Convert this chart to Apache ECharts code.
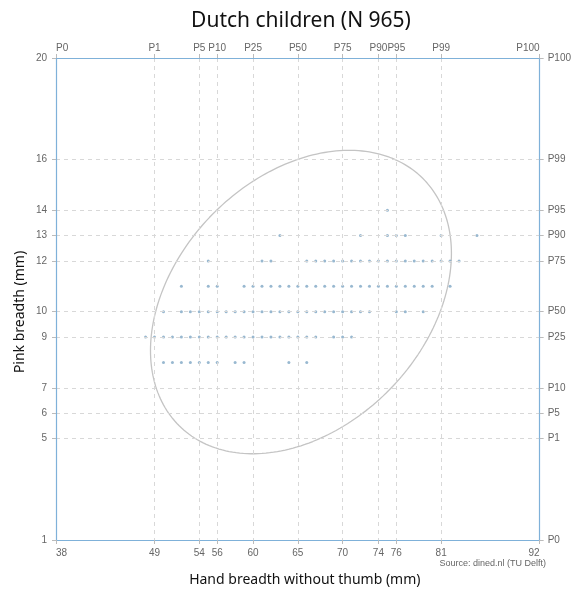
<!DOCTYPE html>
<html>
<head>
<meta charset="utf-8">
<script src="https://cdn.jsdelivr.net/npm/echarts@6/dist/echarts.min.js"></script>
<style>
  html, body { margin: 0; padding: 0; background: #fff; }
  #chart { width: 574px; height: 592px; }
</style>
</head>
<body>
<div id="chart"></div>
<script>
// Hand breadth without thumb (mm): tick values and their percentile names
const xTicks = [38, 49, 54, 56, 60, 65, 70, 74, 76, 81, 92];
const xPercentiles = ['P0', 'P1', 'P5', 'P10', 'P25', 'P50', 'P75', 'P90', 'P95', 'P99', 'P100'];

// Pink breadth (mm): tick values and their percentile names
const yTicks = [1, 5, 6, 7, 9, 10, 12, 13, 14, 16, 20];
const yPercentiles = ['P0', 'P1', 'P5', 'P10', 'P25', 'P50', 'P75', 'P90', 'P95', 'P99', 'P100'];

// Observed hand breadths for each measured pink breadth
const handAtPink8  = [50, 51, 52, 53, 54, 55, 56, 58, 59, 64, 66];
const handAtPink9  = [48, 49, 50, 51, 52, 53, 54, 55, 56, 57, 58, 59, 60, 61, 62, 63, 64, 65, 66, 67, 69, 70, 71];
const handAtPink10 = [50, 52, 53, 54, 55, 56, 57, 58, 59, 60, 61, 62, 63, 64, 65, 66, 67, 68, 69, 70, 71, 72, 73, 76, 77, 79];
const handAtPink11 = [52, 55, 56, 59, 60, 61, 62, 63, 64, 65, 66, 67, 68, 69, 70, 71, 72, 73, 74, 75, 76, 77, 78, 79, 80, 82];
const handAtPink12 = [55, 61, 62, 66, 67, 68, 69, 70, 71, 72, 73, 74, 75, 76, 77, 78, 79, 80, 81, 82, 83];
const handAtPink13 = [63, 72, 75, 76, 77, 81, 85];
const handAtPink14 = [75];

// Spread ellipse: centre, half-widths and the phase that sets its tilt
const ellipseCenter = [65.35, 10.38];
const ellipseHalfX = 16.8;
const ellipseHalfY = 5.98;
const ellipseCosPhase = 0.32;

const rows = [
  [8, handAtPink8], [9, handAtPink9], [10, handAtPink10], [11, handAtPink11],
  [12, handAtPink12], [13, handAtPink13], [14, handAtPink14]
];
const points = [];
rows.forEach(([pink, hands]) => hands.forEach(h => points.push([h, pink])));

const phase = Math.acos(ellipseCosPhase);
const ellipse = [];
for (let i = 0; i <= 240; i++) {
  const t = (i / 240) * Math.PI * 2;
  ellipse.push([
    ellipseCenter[0] + ellipseHalfX * Math.cos(t),
    ellipseCenter[1] + ellipseHalfY * Math.cos(t - phase)
  ]);
}

const FONT = '"Liberation Sans", Arial, sans-serif';
const labelColor = '#666';
const borderColor = '#7fb1d9';
const gridColor = '#d8d8d8';
const tickColor = '#bbbbbb';

function axisBase(min, max, ticks) {
  return {
    type: 'value',
    min: min,
    max: max,
    axisLine: { show: true, onZero: false, lineStyle: { color: borderColor, width: 1.2 } },
    axisTick: { show: true, customValues: ticks, length: 4, inside: false, lineStyle: { color: tickColor } },
    splitLine: { show: false },
    axisLabel: {
      customValues: ticks, color: labelColor, fontSize: 10, fontFamily: FONT
    },
    z: 5
  };
}

const gridLine = {
  show: true,
  showMinLine: false,
  showMaxLine: false,
  lineStyle: { color: gridColor, type: [4, 4], width: 1 }
};

const xBottom = axisBase(38, 92, xTicks);
xBottom.position = 'bottom';
xBottom.splitLine = gridLine;
xBottom.axisLabel.margin = 8;
xBottom.axisLabel.alignMinLabel = 'left';
xBottom.axisLabel.alignMaxLabel = 'right';
xBottom.name = 'Hand breadth without thumb (mm)';
xBottom.nameLocation = 'middle';
xBottom.nameGap = 33;
xBottom.nameTextStyle = { color: '#111', fontSize: 14, fontFamily: '"Noto Sans", sans-serif', padding: [0, 0, 0, 14] };

const xTop = axisBase(38, 92, xTicks);
xTop.position = 'top';
xTop.axisLabel.margin = 5;
xTop.axisLabel.alignMinLabel = 'left';
xTop.axisLabel.alignMaxLabel = 'right';
xTop.axisLabel.formatter = v => xPercentiles[xTicks.indexOf(v)];

const yLeft = axisBase(1, 20, yTicks);
yLeft.position = 'left';
yLeft.splitLine = gridLine;
yLeft.axisLabel.margin = 9;

const yRight = axisBase(1, 20, yTicks);
yRight.position = 'right';
yRight.axisLabel.margin = 8;
yRight.axisLabel.formatter = v => yPercentiles[yTicks.indexOf(v)];

const chart = echarts.init(document.getElementById('chart'), null, { renderer: 'canvas' });
chart.setOption({
  animation: false,
  backgroundColor: '#ffffff',
  title: {
    text: 'Dutch children (N 965)',
    left: 296,
    top: 6,
    textAlign: 'center',
    textStyle: { color: '#111', fontSize: 21, fontWeight: 'normal', fontFamily: '"Noto Sans", sans-serif' }
  },
  grid: { left: 56, right: 28, top: 58, bottom: 46, containLabel: false },
  xAxis: [xBottom, xTop],
  yAxis: [yLeft, yRight],
  graphic: [
    {
      type: 'text',
      x: 20,
      y: 312,
      rotation: Math.PI / 2,
      style: {
        text: 'Pink breadth (mm)', fill: '#111', fontSize: 14,
        fontFamily: '"Noto Sans", sans-serif', align: 'center', verticalAlign: 'middle'
      }
    },
    {
      type: 'text',
      right: 28,
      top: 559,
      style: { text: 'Source: dined.nl (TU Delft)', fill: '#666', fontSize: 9, fontFamily: FONT }
    }
  ],
  series: [
    {
      type: 'line',
      xAxisIndex: 0,
      yAxisIndex: 0,
      data: ellipse,
      showSymbol: false,
      smooth: false,
      silent: true,
      lineStyle: { color: '#c4c4c4', width: 1.3 },
      z: 2
    },
    {
      type: 'scatter',
      xAxisIndex: 0,
      yAxisIndex: 0,
      data: points,
      symbol: 'circle',
      symbolSize: 3,
      itemStyle: { color: '#7ea6c4' },
      z: 3
    }
  ]
});
</script>
</body>
</html>
